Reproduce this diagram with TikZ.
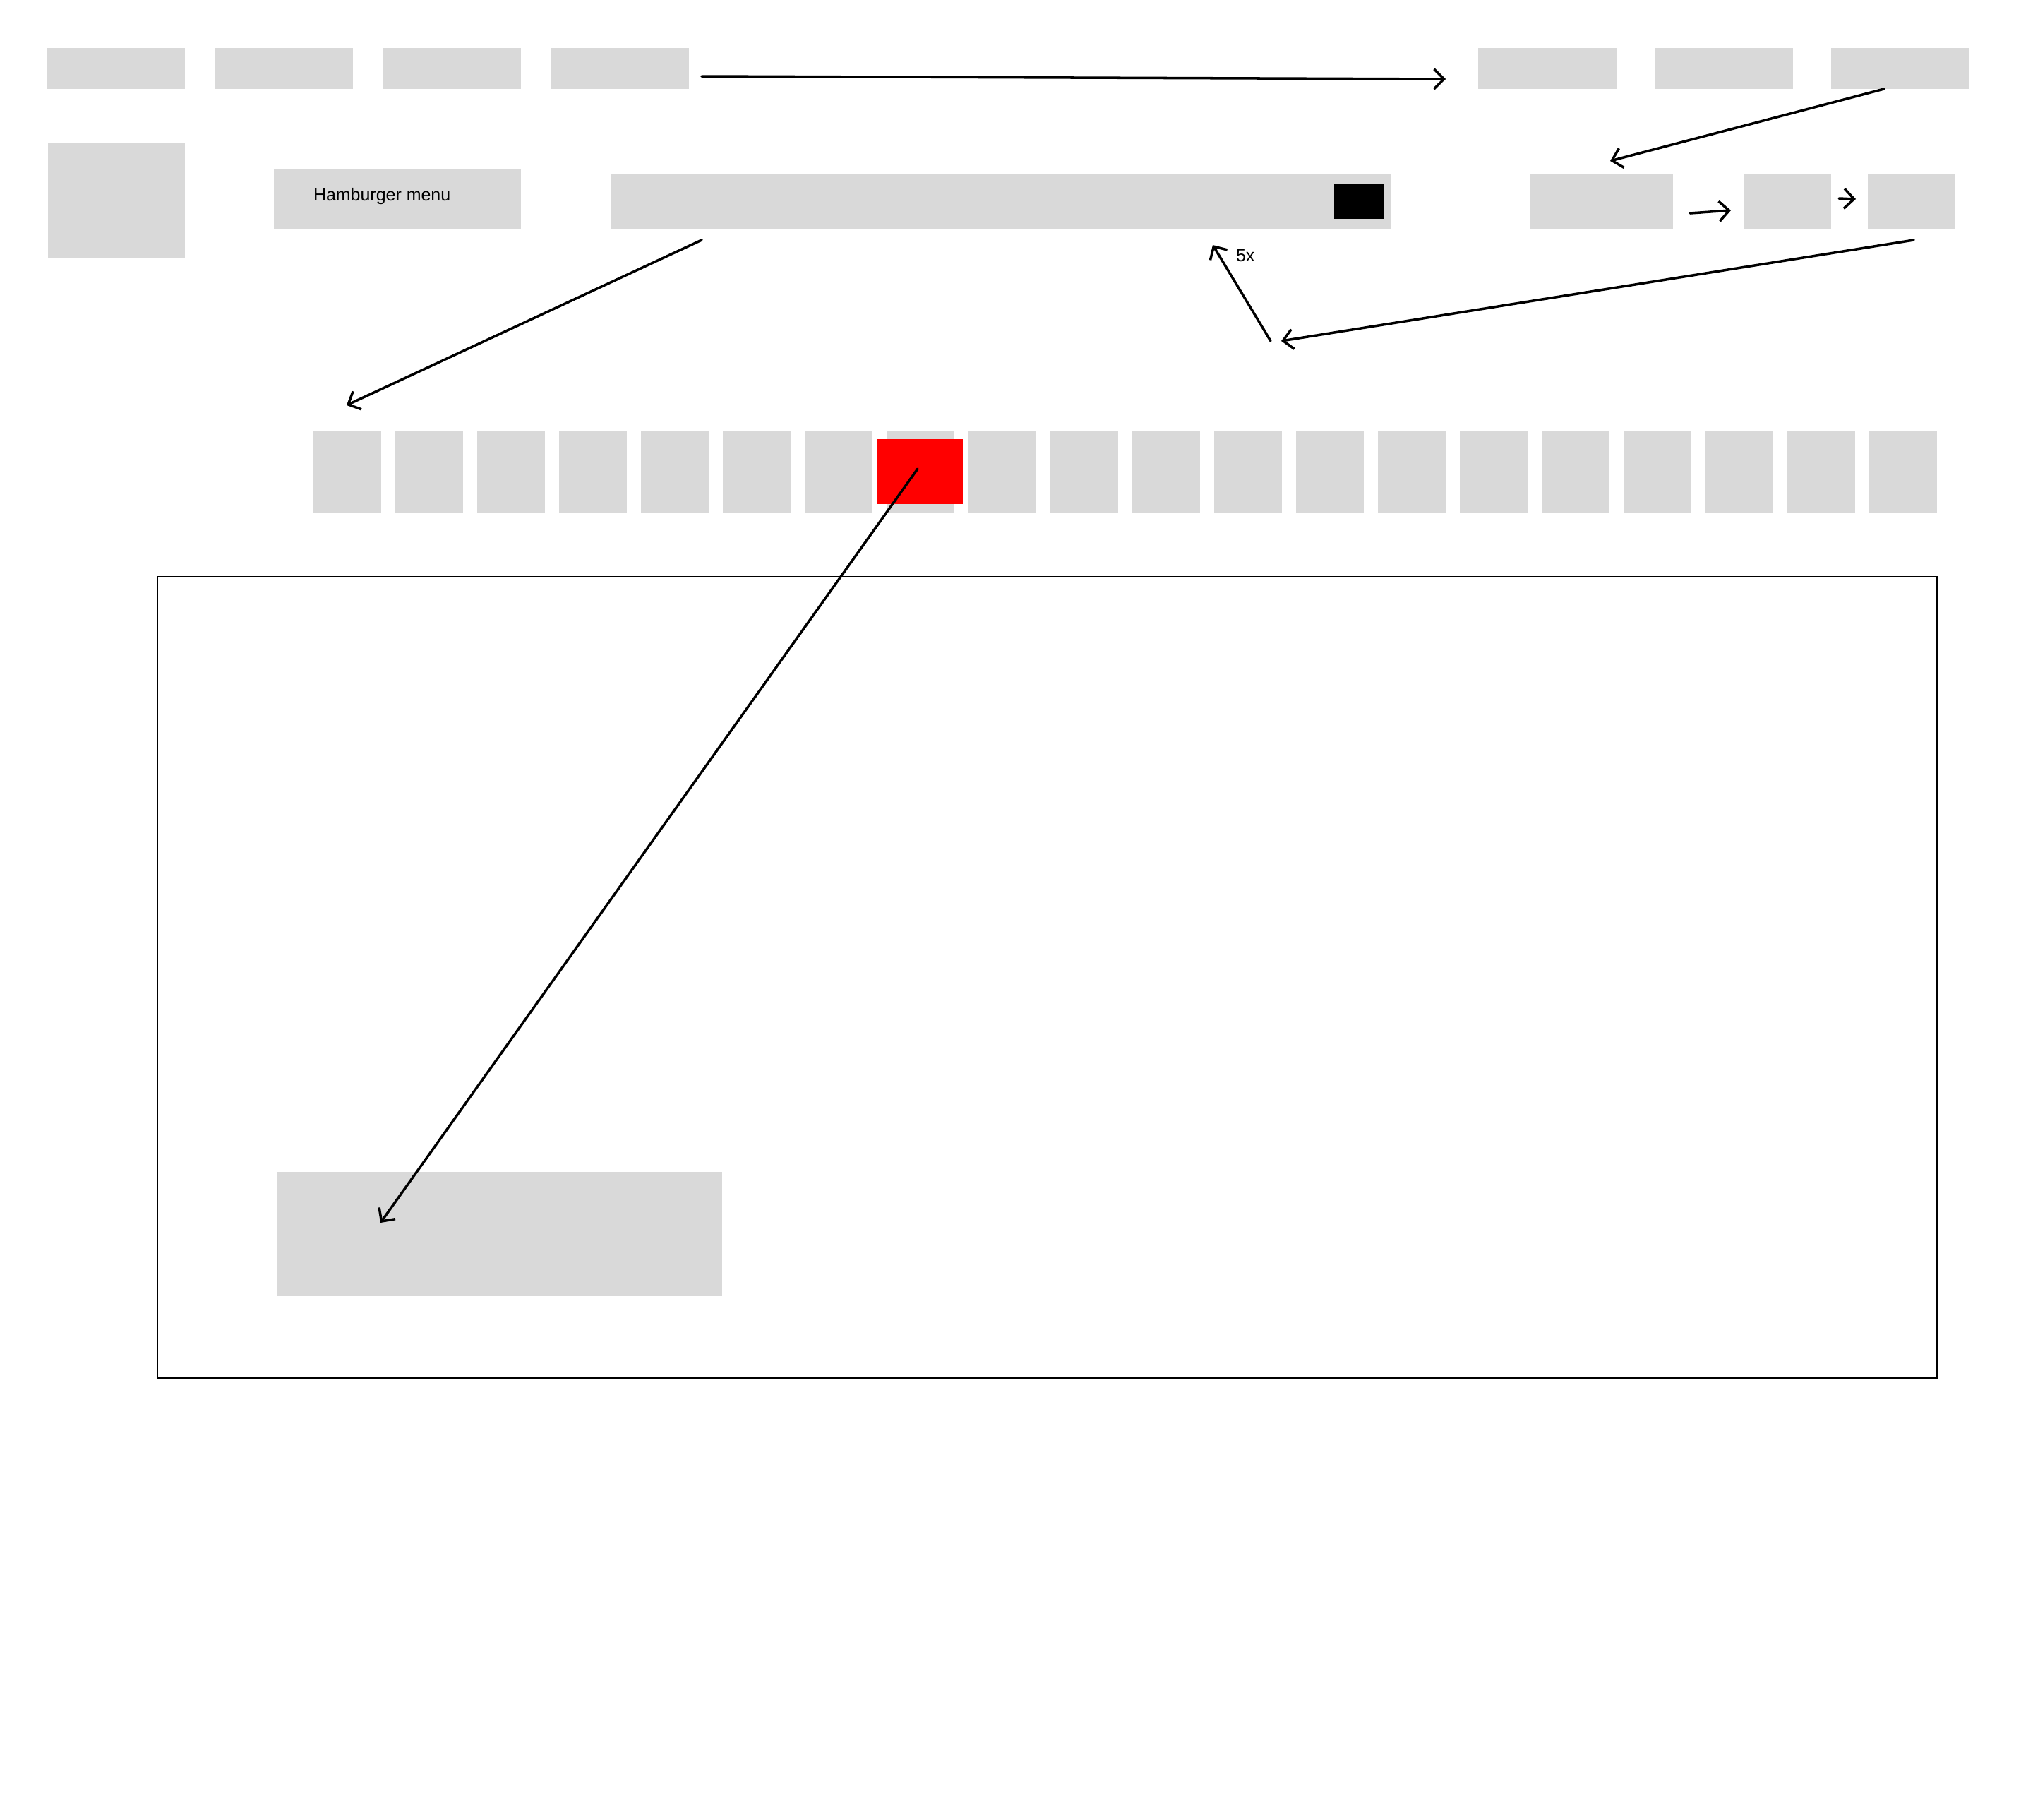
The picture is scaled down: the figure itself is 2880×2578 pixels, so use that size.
\documentclass[tikz,border=0pt]{standalone}
\usepackage{fontspec}
\setmainfont{Liberation Sans}
\usetikzlibrary{arrows.meta}
\definecolor{boxgrey}{HTML}{D9D9D9}
\definecolor{pure red}{HTML}{FF0000}
\tikzset{
  blk/.style={fill=boxgrey, draw=none, inner sep=0pt, outer sep=0pt, anchor=north west},
  redblk/.style={fill=pure red, draw=none, inner sep=0pt, outer sep=0pt, anchor=north west},
  darkblk/.style={fill=black, draw=none, inner sep=0pt, outer sep=0pt, anchor=north west},
  frame/.style={draw=black, line width=0.6pt, fill=none, inner sep=0pt, outer sep=0pt, anchor=north west},
  lbl/.style={inner sep=0pt, outer sep=0pt, font=\fontsize{7.1pt}{8.5pt}\selectfont, text=black},
  arr/.style={-{Straight Barb[length=4pt,width=8pt]}, line width=1pt, line cap=round, draw=black}
}
\begin{document}
\begin{tikzpicture}[x=0.01cm, y=-0.01cm]
\useasboundingbox[fill=white] (0,0) rectangle (2880,2578);

% top row, left group
\node[blk, minimum width=1.96cm, minimum height=0.58cm] (t1) at (66,68) {};
\node[blk, minimum width=1.96cm, minimum height=0.58cm] (t2) at (304,68) {};
\node[blk, minimum width=1.96cm, minimum height=0.58cm] (t3) at (542,68) {};
\node[blk, minimum width=1.96cm, minimum height=0.58cm] (t4) at (780,68) {};
% top row, right group
\node[blk, minimum width=1.96cm, minimum height=0.58cm] (t5) at (2094,68) {};
\node[blk, minimum width=1.96cm, minimum height=0.58cm] (t6) at (2344,68) {};
\node[blk, minimum width=1.96cm, minimum height=0.58cm] (t7) at (2594,68) {};

% second row
\node[blk, minimum width=1.94cm, minimum height=1.64cm] (logo) at (68,202) {};
\node[blk, minimum width=3.50cm, minimum height=0.84cm] (ham) at (388,240) {};
\node[lbl, anchor=base west] (hamtext) at (444,284) {Hamburger menu};
\node[blk, minimum width=11.04cm, minimum height=0.78cm] (search) at (866,246) {};
\node[darkblk, minimum width=0.70cm, minimum height=0.50cm] (searchbtn) at (1890,260) {};
\node[blk, minimum width=2.02cm, minimum height=0.78cm] (ra) at (2168,246) {};
\node[blk, minimum width=1.24cm, minimum height=0.78cm] (rb) at (2470,246) {};
\node[blk, minimum width=1.24cm, minimum height=0.78cm] (rc) at (2646,246) {};

% row of small boxes
\foreach \i in {0,...,19} {
  \node[blk, minimum width=0.96cm, minimum height=1.16cm] (s\i) at ({444+116*\i},610) {};
}
\node[redblk, minimum width=1.22cm, minimum height=0.92cm] (sel) at (1242,622) {};

% large frame and inner block
\node[frame, minimum width=25.20cm, minimum height=11.34cm] (frame) at (223,817) {};
\node[blk, minimum width=6.31cm, minimum height=1.76cm] (detail) at (392,1660) {};

% connector end points
\coordinate (a1s) at (994,108);   \coordinate (a1e) at (2048,112);
\coordinate (a2s) at (2669,126);  \coordinate (a2e) at (2281,228);
\coordinate (a3s) at (2394,302);  \coordinate (a3e) at (2452,298);
\coordinate (a4s) at (2605,281);  \coordinate (a4e) at (2629,282);
\coordinate (a5s) at (2711,340);  \coordinate (a5e) at (1815,483);
\coordinate (a6s) at (1800,483);  \coordinate (a6e) at (1718,347);
\coordinate (a7s) at (994,340);   \coordinate (a7e) at (491,574);
\coordinate (a8s) at (1300,664);  \coordinate (a8e) at (539,1732);

\draw[arr] (a1s) -- (a1e);
\draw[arr] (a2s) -- (a2e);
\draw[arr] (a3s) -- (a3e);
\draw[arr] (a4s) -- (a4e);
\draw[arr] (a5s) -- (a5e);
\draw[arr] (a6s) -- (a6e);
\draw[arr] (a7s) -- (a7e);
\draw[arr] (a8s) -- (a8e);

\node[lbl, anchor=base west] (times) at (1751,370) {5x};
\end{tikzpicture}
\end{document}
